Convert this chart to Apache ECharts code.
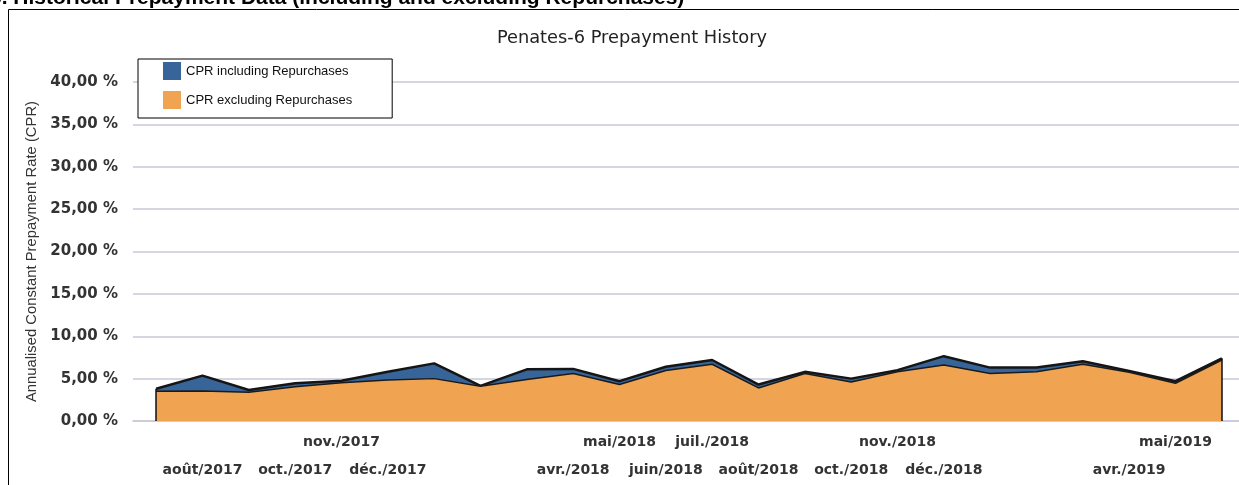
<!DOCTYPE html>
<html>
<head>
<meta charset="utf-8">
<script src="https://cdn.jsdelivr.net/npm/echarts@6/dist/echarts.min.js"></script>
<style>
  html, body { margin: 0; padding: 0; background: #fff; }
  #chart { width: 1239px; height: 485px; }
</style>
</head>
<body>
<div id="chart"></div>
<script>
// months juil./2017 .. juin/2019
var months = ['juil./2017', 'août/2017', 'sept./2017', 'oct./2017', 'nov./2017', 'déc./2017',
    'janv./2018', 'févr./2018', 'mars/2018', 'avr./2018', 'mai/2018', 'juin/2018',
    'juil./2018', 'août/2018', 'sept./2018', 'oct./2018', 'nov./2018', 'déc./2018',
    'janv./2019', 'févr./2019', 'mars/2019', 'avr./2019', 'mai/2019', 'juin/2019'];

// only these labels are printed on the axis in the original
var shownLabels = ['août/2017', 'oct./2017', 'nov./2017', 'déc./2017',
    'avr./2018', 'mai/2018', 'juin/2018', 'juil./2018', 'août/2018',
    'oct./2018', 'nov./2018', 'déc./2018', 'avr./2019', 'mai/2019'];

var cprIncl = [3.8, 5.35, 3.65, 4.45, 4.75, 5.8, 6.8, 4.15, 6.1, 6.15, 4.7, 6.4,
    7.2, 4.3, 5.8, 5.0, 6.0, 7.65, 6.3, 6.3, 7.05, 5.9, 4.7, 7.4];
var cprExcl = [3.5, 3.55, 3.4, 4.05, 4.5, 4.85, 5.0, 4.1, 4.9, 5.6, 4.3, 5.95,
    6.7, 3.9, 5.6, 4.6, 5.8, 6.6, 5.6, 5.8, 6.7, 5.75, 4.45, 7.2];

var blue = '#37659a';
var orange = '#f0a451';

var chartDom = document.getElementById('chart');
var myChart = echarts.init(chartDom);
var last = months.length - 1;

var option = {
    animation: false,
    graphic: [
        {
            type: 'rect',
            shape: { x: 8.5, y: 9.5, width: 1400, height: 600 },
            style: { fill: 'none', stroke: '#000', lineWidth: 1 },
            silent: true
        },
        {
            type: 'text',
            x: -10,
            y: 9,
            style: {
                text: '6. Historical Prepayment Data (including and excluding Repurchases)',
                font: 'bold 21px "Liberation Sans"',
                fill: '#000',
                verticalAlign: 'bottom'
            },
            silent: true
        },
        {
            type: 'text',
            x: 632,
            y: 38,
            style: {
                text: 'Penates-6 Prepayment History',
                font: '17.8px "DejaVu Sans"',
                fill: '#222',
                align: 'center',
                verticalAlign: 'middle'
            },
            silent: true
        }
    ],
    legend: {
        orient: 'vertical',
        left: 138,
        top: 59,
        backgroundColor: '#fff',
        borderColor: '#000',
        borderWidth: 1,
        padding: [3, 40, 9, 25],
        itemWidth: 18,
        itemHeight: 18,
        itemGap: 11,
        icon: 'rect',
        textStyle: { fontFamily: 'Liberation Sans', fontSize: 13, color: '#111' },
        data: ['CPR including Repurchases', 'CPR excluding Repurchases']
    },
    grid: { left: 133, right: -6, top: 82, bottom: 64, outerBoundsMode: 'none' },
    xAxis: {
        type: 'category',
        data: months,
        boundaryGap: true,
        axisLine: { show: true, lineStyle: { color: '#c8c8d8', width: 1.5 } },
        axisTick: { show: false },
        axisLabel: {
            interval: 0,
            margin: 7,
            fontFamily: 'DejaVu Sans',
            fontSize: 14,
            fontWeight: 'bold',
            color: '#333',
            lineHeight: 28,
            formatter: function (v, i) {
                if (shownLabels.indexOf(v) < 0) return '';
                return i % 2 === 0 ? v : '\n' + v;
            }
        }
    },
    yAxis: {
        type: 'value',
        min: 0,
        max: 40,
        interval: 5,
        name: 'Annualised Constant Prepayment Rate (CPR)',
        nameLocation: 'middle',
        nameGap: 91,
        nameTextStyle: { fontFamily: 'Liberation Sans', fontSize: 14.8, color: '#333' },
        axisLine: { show: false },
        axisTick: { show: false },
        splitLine: { lineStyle: { color: '#c8c8d8', width: 1.5 } },
        axisLabel: {
            margin: 15,
            fontFamily: 'DejaVu Sans',
            fontSize: 15,
            fontWeight: 'bold',
            color: '#333',
            formatter: function (v) { return v.toFixed(2).replace('.', ',') + ' %'; }
        }
    },
    series: [
        {
            name: 'CPR including Repurchases',
            type: 'line',
            data: cprIncl,
            symbol: 'none',
            itemStyle: { color: blue },
            lineStyle: { color: '#151515', width: 2.5 },
            areaStyle: { color: blue, opacity: 1 },
            z: 2
        },
        {
            name: 'CPR excluding Repurchases',
            type: 'line',
            data: cprExcl,
            symbol: 'none',
            itemStyle: { color: orange },
            lineStyle: { color: '#1a1a1a', width: 1.5 },
            areaStyle: { color: orange, opacity: 1 },
            z: 3,
            markLine: {
                silent: true,
                symbol: 'none',
                label: { show: false },
                lineStyle: { color: '#111', width: 1.5, type: 'solid' },
                data: [
                    [{ coord: [months[0], 0] }, { coord: [months[0], cprIncl[0]] }],
                    [{ coord: [months[last], 0] }, { coord: [months[last], cprIncl[last]] }]
                ]
            }
        }
    ]
};

myChart.setOption(option);
</script>
</body>
</html>
